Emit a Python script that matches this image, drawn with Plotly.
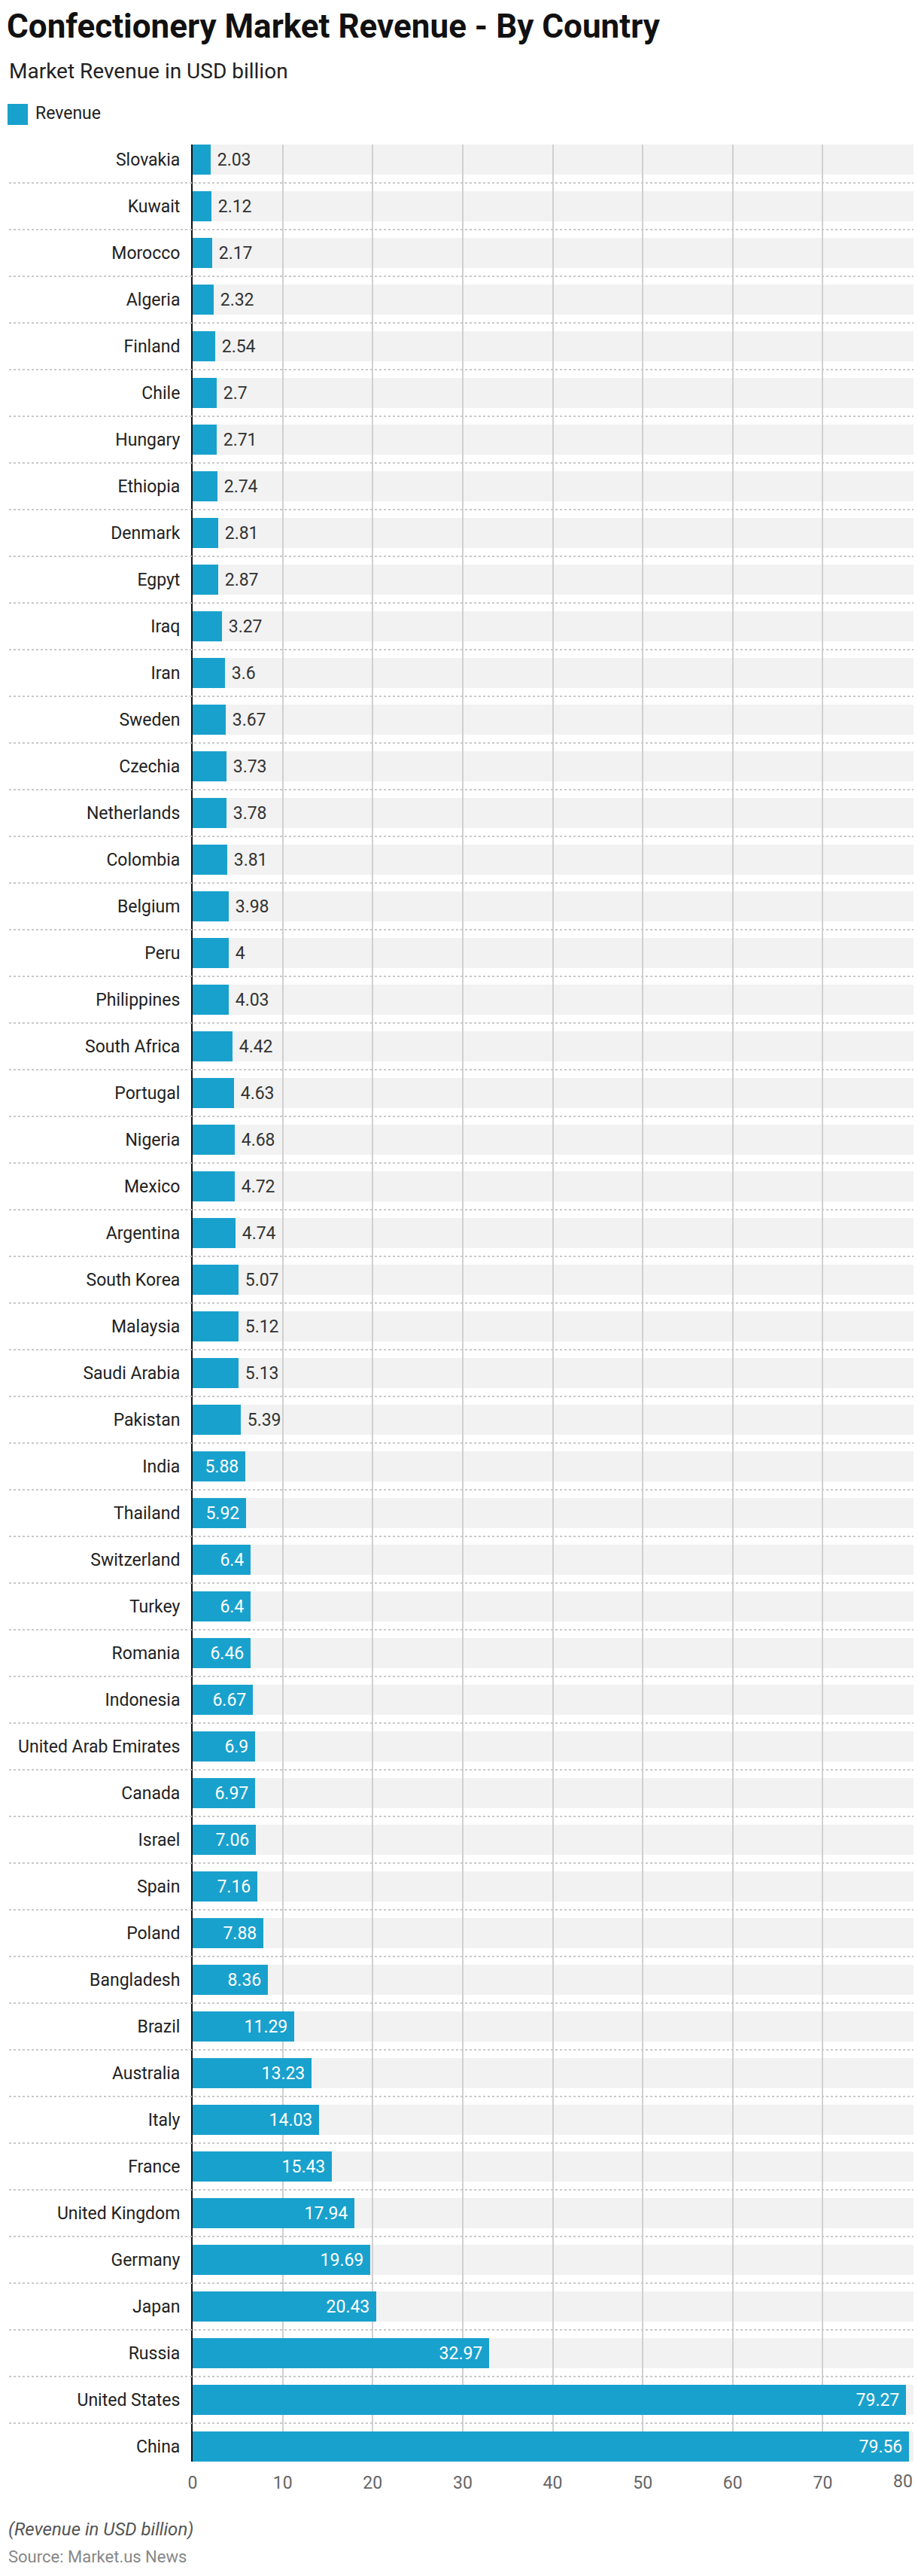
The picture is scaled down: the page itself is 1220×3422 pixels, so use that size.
import plotly.graph_objects as go

# ---------------- data (top to bottom as shown) ----------------
countries = [
    "Slovakia", "Kuwait", "Morocco", "Algeria", "Finland", "Chile", "Hungary",
    "Ethiopia", "Denmark", "Egpyt", "Iraq", "Iran", "Sweden", "Czechia",
    "Netherlands", "Colombia", "Belgium", "Peru", "Philippines", "South Africa",
    "Portugal", "Nigeria", "Mexico", "Argentina", "South Korea", "Malaysia",
    "Saudi Arabia", "Pakistan", "India", "Thailand", "Switzerland", "Turkey",
    "Romania", "Indonesia", "United Arab Emirates", "Canada", "Israel", "Spain",
    "Poland", "Bangladesh", "Brazil", "Australia", "Italy", "France",
    "United Kingdom", "Germany", "Japan", "Russia", "United States", "China",
]
revenue = [
    2.03, 2.12, 2.17, 2.32, 2.54, 2.7, 2.71, 2.74, 2.81, 2.87,
    3.27, 3.6, 3.67, 3.73, 3.78, 3.81, 3.98, 4, 4.03, 4.42,
    4.63, 4.68, 4.72, 4.74, 5.07, 5.12, 5.13, 5.39, 5.88, 5.92,
    6.4, 6.4, 6.46, 6.67, 6.9, 6.97, 7.06, 7.16, 7.88, 8.36,
    11.29, 13.23, 14.03, 15.43, 17.94, 19.69, 20.43, 32.97, 79.27, 79.56,
]
x_ticks = [0, 10, 20, 30, 40, 50, 60, 70, 80]

title_text = "Confectionery Market Revenue - By Country"
subtitle_text = "Market Revenue in USD billion"
legend_text = "Revenue"
note_text = "(Revenue in USD billion)"
source_text = "Source: Market.us News"

# ---------------- layout geometry ----------------
W, H = 1220, 3422
L, R, T, B = 256, 1214, 192, 3270
X_MAX = 80.08
FONT = "Roboto"
BAR = "#19A1CD"
TICK_FONT = dict(family=FONT, size=23, color="#666666")

n = len(countries)
bar_px = 40.0
pitch = ((B - T) - bar_px) / (n - 1)
bw = bar_px / pitch
pad = bw / 2.0


def px_x(px):
    return (px - L) / (R - L)


def px_y(py):
    return (B - py) / (B - T)


INSIDE_MIN = 5.5
labels = []
positions = []
for v in revenue:
    s = f"{v:g}"
    if v >= INSIDE_MIN:
        labels.append(s + "\u00a0")
        positions.append("inside")
    else:
        labels.append("\u00a0" + s)
        positions.append("outside")

# the last tick label is drawn right-aligned to the end of the axis
tick_text = [str(t) for t in x_ticks[:-1]] + [""]
last_tick = x_ticks[-1]

fig = go.Figure()
fig.add_trace(go.Bar(
    x=revenue, y=countries, orientation="h",
    marker=dict(color=BAR, line=dict(width=0)),
    width=bw,
    text=labels, textposition=positions,
    insidetextanchor="end",
    textfont=dict(family=FONT, size=23),
    insidetextfont=dict(family=FONT, size=23, color="#ffffff"),
    outsidetextfont=dict(family=FONT, size=23, color="#333333"),
    constraintext="none",
    cliponaxis=False,
    showlegend=False,
    hoverinfo="x+y",
))

shapes = []
# grey background bands behind each bar (below gridlines)
for i in range(n):
    shapes.append(dict(
        type="rect", xref="x", yref="y", x0=0, x1=X_MAX,
        y0=i - pad, y1=i + pad, fillcolor="#f2f2f2",
        line=dict(width=0), layer="below",
    ))
# dotted separators between rows
for i in range(n - 1):
    shapes.append(dict(
        type="line", xref="paper", yref="y", x0=px_x(12), x1=1.0,
        y0=i + 0.5, y1=i + 0.5,
        line=dict(color="#c9c9c9", width=2, dash="dot"), layer="above",
    ))
# legend swatch
shapes.append(dict(
    type="rect", xref="paper", yref="paper",
    x0=px_x(10), x1=px_x(37), y0=px_y(166), y1=px_y(138),
    fillcolor=BAR, line=dict(width=0),
))

annotations = [
    dict(text=subtitle_text, xref="paper", yref="paper", x=px_x(10), y=px_y(95),
         xanchor="left", yanchor="middle", showarrow=False,
         font=dict(family=FONT, size=28, color="#222222")),
    dict(text=legend_text, xref="paper", yref="paper", x=px_x(45), y=px_y(151),
         xanchor="left", yanchor="middle", showarrow=False,
         font=dict(family=FONT, size=23, color="#222222")),
    dict(text=str(last_tick), xref="x", yref="paper", x=last_tick, y=px_y(3296),
         xanchor="right", yanchor="middle", showarrow=False, xshift=2,
         font=TICK_FONT),
    dict(text="<i>" + note_text + "</i>", xref="paper", yref="paper", x=px_x(9), y=px_y(3360),
         xanchor="left", yanchor="middle", showarrow=False,
         font=dict(family=FONT, size=24, color="#555555")),
    dict(text=source_text, xref="paper", yref="paper", x=px_x(9), y=px_y(3397),
         xanchor="left", yanchor="middle", showarrow=False,
         font=dict(family=FONT, size=22, color="#888888")),
]

fig.update_layout(
    width=W, height=H,
    margin=dict(l=L, r=W - R, t=T, b=H - B, pad=0),
    paper_bgcolor="#ffffff", plot_bgcolor="#ffffff",
    font=dict(family=FONT, color="#222222"),
    title=dict(text=title_text, x=9 / W, xref="container", xanchor="left",
               y=1 - 35 / H, yref="container", yanchor="middle",
               font=dict(family=FONT, size=44, color="#111111", weight=700)),
    xaxis=dict(range=[0, X_MAX], tickmode="array", tickvals=x_ticks,
               ticktext=tick_text,
               showgrid=True, gridcolor="#d0d0d0", gridwidth=2,
               zeroline=False, showline=False, ticks="",
               tickfont=TICK_FONT,
               ticklabelstandoff=12, fixedrange=True),
    yaxis=dict(type="category", categoryorder="array", categoryarray=countries,
               range=[n - 1 + pad, -pad], showgrid=False, zeroline=False,
               showline=True, linecolor="#111111", linewidth=2, ticks="",
               tickfont=dict(family=FONT, size=23, color="#222222"),
               ticklabelstandoff=10, fixedrange=True),
    shapes=shapes, annotations=annotations,
    bargap=0,
)

fig.write_html(
    "out.html",
    config={"displayModeBar": False},
    post_script="document.body.style.margin='0';document.body.style.padding='0';"
                "document.documentElement.style.overflow='hidden';",
)
